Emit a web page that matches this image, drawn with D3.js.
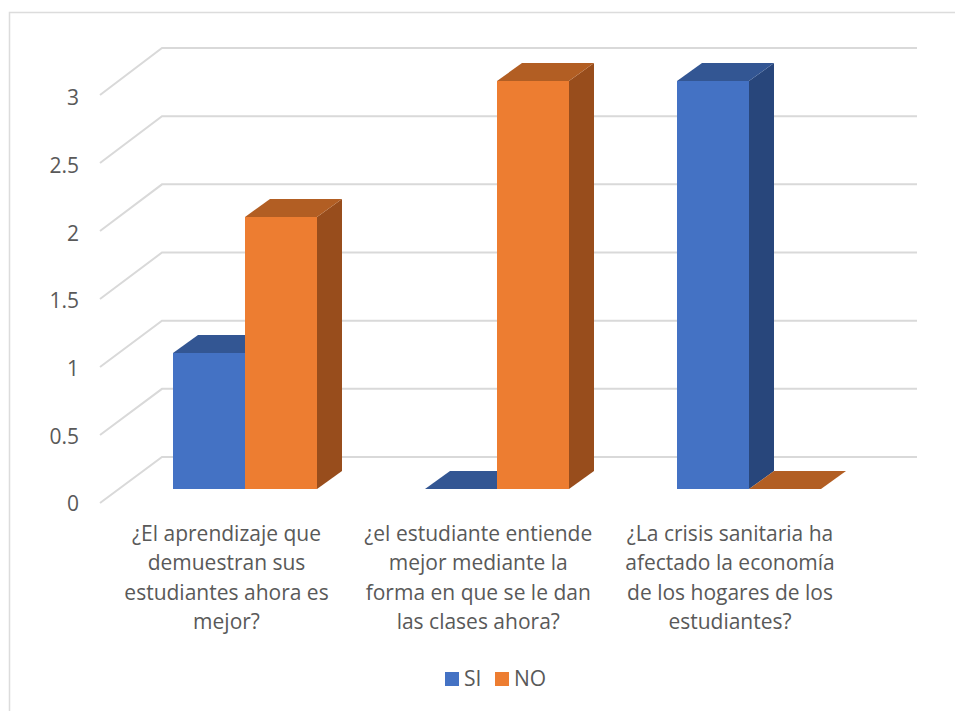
<!DOCTYPE html>
<html>
  <head>
    <meta charset="utf-8">
    <title>Encuesta</title>
    <style media="screen">
      body {margin:0; background:#fff}
      svg {display:block}
      text {font-family:"Open Sans", sans-serif; fill:#595959}
      .domain {display:none}
    </style>
  </head>
  <body>
    <script src="https://cdn.jsdelivr.net/npm/d3@7"></script>
    <script type="text/javascript">

    const categories = [
      ['¿El aprendizaje que', 'demuestran sus', 'estudiantes ahora es', 'mejor?'],
      ['¿el estudiante entiende', 'mejor mediante la', 'forma en que se le dan', 'las clases ahora?'],
      ['¿La crisis sanitaria ha', 'afectado la economía', 'de los hogares de los', 'estudiantes?']
    ]
    const si = [1, 0, 3]
    const no = [2, 3, 0]
    const seriesNames = ['SI', 'NO']
    const tickValues = [0, 0.5, 1, 1.5, 2, 2.5, 3]
    const tickLabels = ['0', '0.5', '1', '1.5', '2', '2.5', '3']

    const colors = {
      SI: {front: '#4472c4', top: '#335693', side: '#28467b'},
      NO: {front: '#ed7d31', top: '#b25e23', side: '#984d1c'}
    }

    const w = 955, h = 711
    const svg = d3.select('body').append('svg')
      .attr('width', w)
      .attr('height', h)

    // chart frame, cut off by the picture on the right and bottom
    svg.append('path')
      .attr('d', `M9.5,${h}V12.5H${w}`)
      .attr('fill', 'none')
      .attr('stroke', '#dcdcdc')
      .attr('stroke-width', 1.5)

    // same values, different depths of the 3d box
    const yFront = d3.scaleLinear().domain([0, 3]).range([503, 95])
    const yBack = d3.scaleLinear().domain([0, 3]).range([457, 48])
    const yBar = d3.scaleLinear().domain([0, 3]).range([489, 81])
    const yLabel = d3.scaleLinear().domain([0, 3]).range([504, 98])

    const x0 = d3.scaleBand().domain(d3.range(categories.length)).range([119, 875])
    const x1 = d3.scaleBand().domain(seriesNames).range([0, 144])
    const barOffset = 54
    const depthX = 25, depthY = 18

    // walls
    svg.append('g').selectAll('path').data(tickValues).join('path')
      .attr('d', d => `M100,${yFront(d)}L162,${yBack(d)}H917`)
      .attr('fill', 'none')
      .attr('stroke', '#d9d9d9')
      .attr('stroke-width', 2)

    // value axis
    const axis = d3.axisLeft(yLabel)
      .tickValues(tickValues)
      .tickFormat((d, i) => tickLabels[i])
      .tickSize(0)
      .tickPadding(0)

    svg.append('g')
      .attr('transform', 'translate(79,0)')
      .call(axis)
      .selectAll('text')
      .attr('font-size', 21)
      .style('font-family', '"Open Sans", sans-serif')
      .attr('fill', '#595959')

    // bars
    const bars = []
    categories.forEach((c, i) => {
      bars.push({cat: i, name: 'SI', value: si[i]})
      bars.push({cat: i, name: 'NO', value: no[i]})
    })

    const bar = svg.append('g').selectAll('g').data(bars).join('g')

    bar.append('path')
      .attr('fill', d => colors[d.name].side)
      .attr('d', d => {
        const r = x0(d.cat) + barOffset + x1(d.name) + x1.bandwidth()
        return `M${r},${yBar(d.value)}l${depthX},${-depthY}V${yBar(0) - depthY}L${r},${yBar(0)}Z`
      })

    bar.append('path')
      .attr('fill', d => colors[d.name].top)
      .attr('d', d => {
        const l = x0(d.cat) + barOffset + x1(d.name)
        return `M${l},${yBar(d.value)}l${depthX},${-depthY}h${x1.bandwidth()}l${-depthX},${depthY}Z`
      })

    bar.append('rect')
      .attr('fill', d => colors[d.name].front)
      .attr('x', d => x0(d.cat) + barOffset + x1(d.name))
      .attr('y', d => yBar(d.value))
      .attr('width', x1.bandwidth())
      .attr('height', d => yBar(0) - yBar(d.value))

    // category labels
    const xLabel = d3.scalePoint().domain(d3.range(categories.length)).range([226.5, 730])

    const label = svg.append('g').selectAll('text').data(categories).join('text')
      .attr('text-anchor', 'middle')
      .attr('font-size', 21)
      .attr('transform', (d, i) => `translate(${xLabel(i)},0)`)

    label.selectAll('tspan').data(d => d).join('tspan')
      .attr('x', 0)
      .attr('y', (d, i) => 541 + i * 29.3)
      .text(d => d)

    // legend
    const legendX = d3.scalePoint().domain(seriesNames).range([445, 495])
    const legend = svg.append('g').selectAll('g').data(seriesNames).join('g')
      .attr('transform', d => `translate(${legendX(d)},672)`)

    legend.append('rect')
      .attr('width', 14)
      .attr('height', 14)
      .attr('fill', d => colors[d].front)

    legend.append('text')
      .attr('x', 19)
      .attr('y', 14)
      .attr('font-size', 21)
      .text(d => d)

    </script>
  </body>
</html>
